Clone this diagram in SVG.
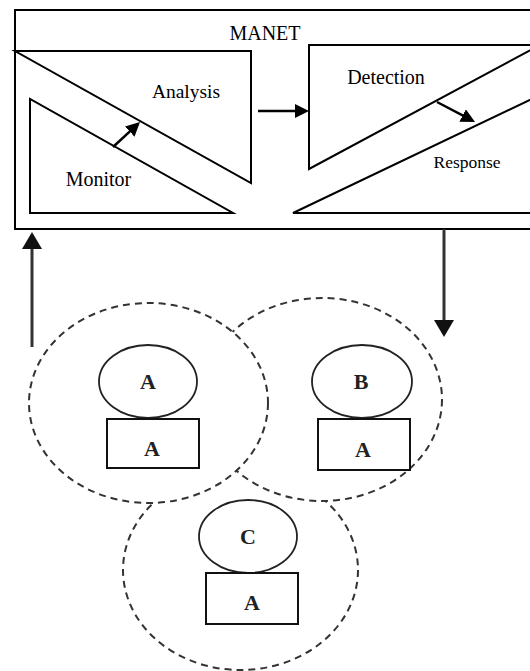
<svg xmlns="http://www.w3.org/2000/svg" width="530" height="671" viewBox="0 0 530 671">
  <style>
    .shape { fill: none; stroke: #000; stroke-width: 2; stroke-linejoin: miter; }
    .zone { fill: #fff; stroke: #333; stroke-width: 2; stroke-dasharray: 7 5; }
    .node { fill: #fff; stroke: #222; stroke-width: 1.8; }
    .box { fill: #fff; stroke: #111; stroke-width: 2; }
    .lbl { font-family: "Liberation Serif", "Times New Roman", serif; fill: #000; text-anchor: middle; }
    .nlbl { font-family: "Liberation Serif", "Times New Roman", serif; fill: #222; text-anchor: middle; font-weight: bold; font-size: 22px; }
    .arr { stroke: #000; stroke-width: 2.5; fill: none; }
    .big { stroke: #333; stroke-width: 3; fill: none; }
  </style>
  <defs>
    <marker id="ah" viewBox="0 0 14 14" markerWidth="14" markerHeight="14" markerUnits="userSpaceOnUse" refX="8" refY="7" orient="auto">
      <path d="M0,0 L14,7 L0,14 z" fill="#000"/>
    </marker>
    <marker id="ahBig" viewBox="0 0 17 20" markerWidth="17" markerHeight="20" markerUnits="userSpaceOnUse" refX="10" refY="10" orient="auto">
      <path d="M0,0 L17,10 L0,20 z" fill="#111"/>
    </marker>
  </defs>

  <rect width="530" height="671" fill="#fff"/>

  <g id="manet">
    <rect class="shape" x="15" y="10" width="525" height="219"/>
    <text class="lbl" x="265" y="40" font-size="20">MANET</text>
  </g>

  <g id="analysis">
    <path class="shape" d="M15,51 L251,51 L251,183 Z"/>
    <text class="lbl" x="186" y="98" font-size="19.5">Analysis</text>
  </g>

  <g id="monitor">
    <path class="shape" d="M30,99 L30,213 L233,213 Z"/>
    <text class="lbl" x="98.5" y="186" font-size="20">Monitor</text>
  </g>

  <g id="detection">
    <path class="shape" d="M309,45 L540,45 L309,169 Z"/>
    <text class="lbl" x="386" y="84" font-size="20">Detection</text>
  </g>

  <g id="response">
    <path class="shape" d="M293,213 L540,95 L540,213 Z"/>
    <text class="lbl" x="467" y="168" font-size="17.5">Response</text>
  </g>

  <g id="zones">
    <ellipse id="zone-c" class="zone" cx="240.5" cy="570" rx="117.5" ry="100"/>
    <ellipse id="zone-b" class="zone" cx="322" cy="399.5" rx="120" ry="101.5"/>
    <ellipse id="zone-a" class="zone" cx="148.5" cy="403" rx="119.5" ry="100"/>
  </g>

  <g id="node-a">
    <ellipse class="node" cx="148" cy="381.5" rx="49" ry="36.5"/>
    <rect class="box" x="107" y="419" width="92" height="49"/>
    <text class="nlbl" x="148" y="389">A</text>
    <text class="nlbl" x="152" y="456">A</text>
  </g>

  <g id="node-b">
    <ellipse class="node" cx="362" cy="381.5" rx="50" ry="36.5"/>
    <rect class="box" x="318" y="419" width="92" height="51"/>
    <text class="nlbl" x="361" y="389">B</text>
    <text class="nlbl" x="363" y="457">A</text>
  </g>

  <g id="node-c">
    <ellipse class="node" cx="248" cy="536.5" rx="49" ry="36.5"/>
    <rect class="box" x="206" y="573" width="92" height="51"/>
    <text class="nlbl" x="248" y="544">C</text>
    <text class="nlbl" x="252" y="610">A</text>
  </g>

  <g id="connectors">
    <line class="arr" x1="113" y1="147" x2="135.6" y2="126.1" marker-end="url(#ah)"/>
    <line class="arr" x1="258" y1="111" x2="303" y2="111" marker-end="url(#ah)"/>
    <line class="arr" x1="437" y1="102" x2="469.7" y2="119.2" marker-end="url(#ah)"/>
    <line class="big" x1="32" y1="347" x2="32" y2="239" marker-end="url(#ahBig)"/>
    <line class="big" x1="444" y1="229" x2="444" y2="330" marker-end="url(#ahBig)"/>
  </g>
</svg>
